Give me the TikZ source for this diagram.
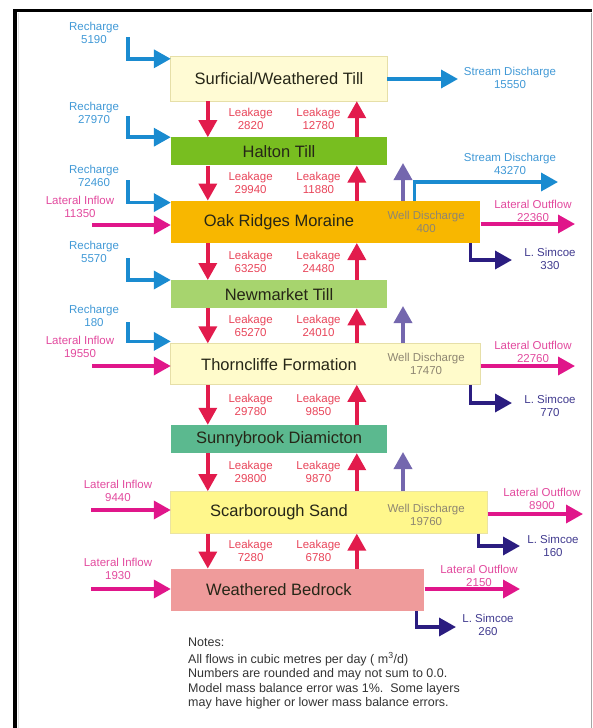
\documentclass[tikz,border=0pt]{standalone}
\usepackage{fontspec}
\setmainfont{Liberation Sans}
\usetikzlibrary{positioning, arrows.meta}

\definecolor{titleC}{HTML}{262617}
\definecolor{surfC}{HTML}{FFFBD4}
\definecolor{haltonC}{HTML}{78BE20}
\definecolor{oakC}{HTML}{F8B700}
\definecolor{newmC}{HTML}{A7D46E}
\definecolor{thornC}{HTML}{FFFBCB}
\definecolor{sunnyC}{HTML}{5BB98F}
\definecolor{scarC}{HTML}{FFF78C}
\definecolor{bedrC}{HTML}{EF9B9B}
\definecolor{rimC}{HTML}{E6DFA8}
\definecolor{leakC}{HTML}{E21B4C}
\definecolor{leakT}{HTML}{E8455A}
\definecolor{rechC}{HTML}{1A8BD0}
\definecolor{rechT}{HTML}{4199D6}
\definecolor{latC}{HTML}{E0168A}
\definecolor{latT}{HTML}{E24A9E}
\definecolor{wellC}{HTML}{7467AE}
\definecolor{wellT}{HTML}{8E8672}
\definecolor{simC}{HTML}{2B1D80}
\definecolor{simT}{HTML}{413B8F}
\definecolor{noteT}{HTML}{333333}

\begin{document}
\begin{tikzpicture}[x=1pt, y=-1pt, >={Triangle[length=17pt, width=18pt]},
	layer/.style={rectangle, inner sep=0pt, minimum width=216pt, text=titleC, font=\fontsize{16.5}{19}\selectfont},
	ext/.style={rectangle, inner sep=0pt},
	lbl/.style={align=center, inner sep=1pt, font=\fontsize{11.5}{13}\selectfont},
	welltxt/.style={lbl, text=wellT},
	flow/.style={->, line width=3.5pt},
	leak/.style={flow, draw=leakC},
	recharge/.style={flow, draw=rechC},
	lateral/.style={flow, draw=latC},
	well/.style={flow, draw=wellC},
	simcoe/.style={flow, draw=simC},
	leakL/.style={lbl, text=leakT, right=18pt},
	leakR/.style={lbl, text=leakT, left=13.5pt}]
	\useasboundingbox (0,0) rectangle (592,728);

	% frame
	\draw[line width=3.5pt] (15,728) -- (15,10.5) -- (592,10.5);
	\draw[black!12, line width=1pt] (18.5,12.5) -- (18.5,728);
	\draw[black!35, line width=1pt] (591,12.5) -- (591,728);

	% layers
	\node[layer, fill=surfC,   minimum height=44pt						] (surf) 	at (279,79)	{Surficial/Weathered Till};
	\node[layer, fill=haltonC, minimum height=28pt, below=36pt of surf	] (halton) 		{Halton Till};
	\node[layer, fill=oakC,    minimum height=42pt, below=35pt of halton	] (oak) 		{Oak Ridges Moraine};
	\node[layer, fill=newmC,   minimum height=28pt, below=37pt of oak		] (newm) 		{Newmarket Till};
	\node[layer, fill=thornC,  minimum height=41pt, below=35pt of newm		] (thorn) 		{Thorncliffe Formation};
	\node[layer, fill=sunnyC,  minimum height=28pt, below=40pt of thorn	] (sunny) 		{Sunnybrook Diamicton};
	\node[layer, fill=scarC,   minimum height=42pt, below=38pt of sunny	] (scar) 		{Scarborough Sand};
	\node[layer, fill=bedrC,   minimum height=42pt, below=35pt of scar		] (bedr) 		{Weathered Bedrock};

	\node[ext, fill=oakC,   minimum width=93.5pt,  minimum height=42pt, right=-0.5pt of oak,
		label={[welltxt, xshift=-7.5pt]center:{Well Discharge\\400}}] (oakwell) {};
	\node[ext, fill=thornC, minimum width=93.5pt,  minimum height=41pt, right=-0.5pt of thorn,
		label={[welltxt, xshift=-7.5pt]center:{Well Discharge\\17470}}] (thornwell) {};
	\node[ext, fill=scarC,  minimum width=100.5pt, minimum height=42pt, right=-0.5pt of scar,
		label={[welltxt, xshift=-11pt, yshift=-2pt]center:{Well Discharge\\19760}}] (scarwell) {};
	\node[ext, fill=bedrC,  minimum width=37.5pt,  minimum height=42pt, right=-0.5pt of bedr] (bedrext) {};

	\draw[rimC, line width=0.8pt] (surf.north west) rectangle (surf.south east);
	\draw[rimC, line width=0.8pt] (thorn.north west) rectangle (thornwell.south east);
	\draw[rimC!80!scarC, line width=0.8pt] (scar.north west) rectangle (scarwell.south east);

	% leakage between layers
	\draw	([xshift=37pt]surf.south west)		edge[leak]	node[leakL]	{Leakage\\2820}		([xshift=37pt]halton.north west)
			([xshift=186pt]halton.north west)	edge[leak]	node[leakR]	{Leakage\\12780}	([xshift=186pt]surf.south west)
			([xshift=37pt]halton.south west)	edge[leak]	node[leakL]	{Leakage\\29940}	([xshift=37pt]oak.north west)
			([xshift=186pt]oak.north west)		edge[leak]	node[leakR]	{Leakage\\11880}	([xshift=186pt]halton.south west)
			([xshift=37pt]oak.south west)		edge[leak]	node[leakL]	{Leakage\\63250}	([xshift=37pt]newm.north west)
			([xshift=186pt]newm.north west)		edge[leak]	node[leakR]	{Leakage\\24480}	([xshift=186pt]oak.south west)
			([xshift=37pt]newm.south west)		edge[leak]	node[leakL]	{Leakage\\65270}	([xshift=37pt]thorn.north west)
			([xshift=186pt]thorn.north west)	edge[leak]	node[leakR]	{Leakage\\24010}	([xshift=186pt]newm.south west)
			([xshift=37pt]thorn.south west)		edge[leak]	node[leakL]	{Leakage\\29780}	([xshift=37pt]sunny.north west)
			([xshift=186pt]sunny.north west)	edge[leak]	node[leakR]	{Leakage\\9850}		([xshift=186pt]thorn.south west)
			([xshift=37pt]sunny.south west)		edge[leak]	node[leakL]	{Leakage\\29800}	([xshift=37pt]scar.north west)
			([xshift=186pt]scar.north west)		edge[leak]	node[leakR]	{Leakage\\9870}		([xshift=186pt]sunny.south west)
			([xshift=37pt]scar.south west)		edge[leak]	node[leakL]	{Leakage\\7280}		([xshift=37pt]bedr.north west)
			([xshift=186pt]bedr.north west)		edge[leak]	node[leakR]	{Leakage\\6780}		([xshift=186pt]scar.south west)
			;

	% recharge
	\coordinate (rc1) at (128,37);
	\coordinate (rc2) at (128,116);
	\coordinate (rc3) at (128,180);
	\coordinate (rc4) at (128,258);
	\coordinate (rc5) at (128,322);
	\node[lbl, text=rechT] (rc1txt) at (94,32.5)	{Recharge\\5190};
	\node[lbl, text=rechT] (rc2txt) at (94,112.5)	{Recharge\\27970};
	\node[lbl, text=rechT] (rc3txt) at (94,175.5)	{Recharge\\72460};
	\node[lbl, text=rechT] (rc4txt) at (94,252)		{Recharge\\5570};
	\node[lbl, text=rechT] (rc5txt) at (94,316)		{Recharge\\180};
	\draw[recharge] (rc1) |- ([yshift=-2pt]surf.north west);
	\draw[recharge] (rc2) |- (halton.north west);
	\draw[recharge] (rc3) |- ([yshift=-2pt]oak.north west);
	\draw[recharge] (rc4) |- (newm.north west);
	\draw[recharge] (rc5) |- ([yshift=2pt]thorn.north west);

	% lateral inflow
	\coordinate (li1) at (92,225);
	\coordinate (li2) at (92,366);
	\coordinate (li3) at (91,510);
	\coordinate (li4) at (91,589);
	\node[lbl, text=latT] (li1txt) at (80,206.5)	{Lateral Inflow\\11350};
	\node[lbl, text=latT] (li2txt) at (80,346.5)	{Lateral Inflow\\19550};
	\node[lbl, text=latT] (li3txt) at (118,490.5)	{Lateral Inflow\\9440};
	\node[lbl, text=latT] (li4txt) at (118,568.5)	{Lateral Inflow\\1930};
	\draw[lateral] (li1) -- (li1 -| oak.west);
	\draw[lateral] (li2) -- (li2 -| thorn.west);
	\draw[lateral] (li3) -- (li3 -| scar.west);
	\draw[lateral] (li4) -- (li4 -| bedr.west);

	% lateral outflow
	\coordinate (lo1) at (575,224);
	\coordinate (lo2) at (575,366);
	\coordinate (lo3) at (583,514);
	\coordinate (lo4) at (520,589);
	\node[lbl, text=latT] (lo1txt) at (533,210.5)	{Lateral Outflow\\22360};
	\node[lbl, text=latT] (lo2txt) at (533,351.5)	{Lateral Outflow\\22760};
	\node[lbl, text=latT] (lo3txt) at (542,498.5)	{Lateral Outflow\\8900};
	\node[lbl, text=latT] (lo4txt) at (479,575.5)	{Lateral Outflow\\2150};
	\draw[lateral] (lo1 -| oakwell.east) -- (lo1);
	\draw[lateral] (lo2 -| thornwell.east) -- (lo2);
	\draw[lateral] (lo3 -| scarwell.east) -- (lo3);
	\draw[lateral] (lo4 -| bedrext.east) -- (lo4);

	% stream discharge
	\coordinate (sd1) at (458,79);
	\coordinate (sd2) at (558,182);
	\node[lbl, text=rechT] (sd1txt) at (510,77.5)	{Stream Discharge\\15550};
	\node[lbl, text=rechT] (sd2txt) at (510,163.5)	{Stream Discharge\\43270};
	\draw[recharge] (sd1 -| surf.east) -- (sd1);
	\draw[recharge] ([xshift=28pt]oakwell.north west) |- (sd2);

	% well discharge
	\coordinate (wd1) at (403,163);
	\coordinate (wd2) at (403,306);
	\coordinate (wd3) at (403,452);
	\draw[well] (wd1 |- oakwell.north) -- (wd1);
	\draw[well] (wd2 |- thornwell.north) -- (wd2);
	\draw[well] (wd3 |- scarwell.north) -- (wd3);

	% L. Simcoe
	\coordinate (ls1) at (512,260);
	\coordinate (ls2) at (512,403);
	\coordinate (ls3) at (520,546);
	\coordinate (ls4) at (456,627);
	\node[lbl, text=simT] (ls1txt) at (550,258.5)	{L. Simcoe\\330};
	\node[lbl, text=simT] (ls2txt) at (550,406)		{L. Simcoe\\770};
	\node[lbl, text=simT] (ls3txt) at (553,546)		{L. Simcoe\\160};
	\node[lbl, text=simT] (ls4txt) at (488,624.5)	{L. Simcoe\\260};
	\draw[simcoe] ([xshift=-10pt]oakwell.south east) |- (ls1);
	\draw[simcoe] ([xshift=-10pt]thornwell.south east) |- (ls2);
	\draw[simcoe] ([xshift=-9pt]scarwell.south east) |- (ls3);
	\draw[simcoe] ([xshift=-8pt]bedrext.south east) |- (ls4);

	% notes
	\node[anchor=north west, inner sep=0pt, align=left, text=noteT, font=\fontsize{12.5}{14.5}\selectfont] (notes) at (188,638)
		{Notes:\\[2pt]All flows in cubic metres per day ( m\textsuperscript{3}/d)\\Numbers are rounded and may not sum to 0.0.\\Model mass balance error was 1\%.\ \ Some layers\\may have higher or lower mass balance errors.};
\end{tikzpicture}
\end{document}
